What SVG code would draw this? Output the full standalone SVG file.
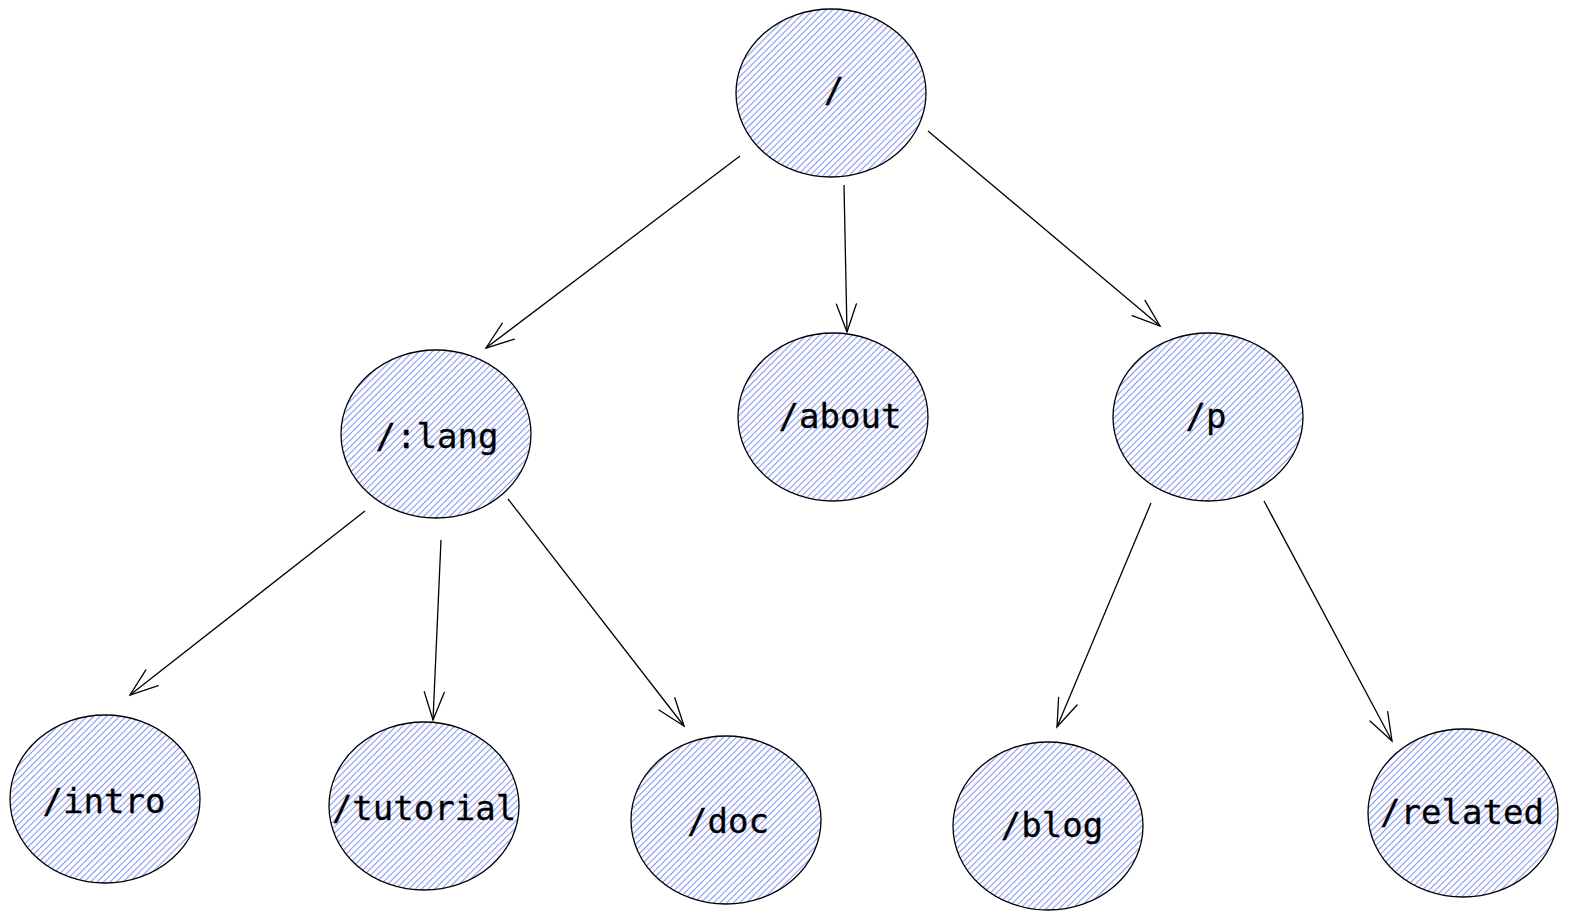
<svg xmlns="http://www.w3.org/2000/svg" width="1570" height="921" viewBox="0 0 1570 921">
<defs>
<pattern id="hatch" patternUnits="userSpaceOnUse" width="4.6" height="4.6" patternTransform="rotate(45)">
<line x1="2.3" y1="0" x2="2.3" y2="4.6" stroke="#8496f0" stroke-width="1.1"/>
</pattern>
<marker id="arr" markerUnits="userSpaceOnUse" markerWidth="40" markerHeight="30" refX="0" refY="0" viewBox="-32 -15 36 30" orient="auto">
<path d="M -28,-10 L 0,0 L -28,10" fill="none" stroke="#000000" stroke-width="1.3" stroke-linecap="round"/>
</marker>
</defs>
<style>
.node ellipse { fill: url(#hatch); stroke: #000000; stroke-width: 1.3; }
.node text { font-family: "DejaVu Sans Mono", "Liberation Mono", monospace; font-size: 34px; fill: #000000; stroke: #000000; stroke-width: 0.3; text-anchor: middle; }
.edges line { stroke: #000000; stroke-width: 1.3; fill: none; marker-end: url(#arr); }
</style>
<rect width="1570" height="921" fill="#ffffff"/>
<g class="edges">
<line x1="740" y1="156" x2="486" y2="348"/>
<line x1="844" y1="185" x2="847" y2="332"/>
<line x1="928" y1="131" x2="1160" y2="326"/>
<line x1="365" y1="511" x2="130" y2="695"/>
<line x1="441" y1="540" x2="433" y2="720"/>
<line x1="508" y1="499" x2="684" y2="726"/>
<line x1="1151" y1="503" x2="1057" y2="727"/>
<line x1="1264" y1="501" x2="1392" y2="741"/>
</g>
<g class="node" id="root"><ellipse cx="831" cy="93" rx="95" ry="84"/><text x="834" y="102">/</text></g>
<g class="node" id="lang"><ellipse cx="436" cy="434" rx="95" ry="84"/><text x="437" y="448">/:lang</text></g>
<g class="node" id="about"><ellipse cx="833" cy="417" rx="95" ry="84"/><text x="840" y="428">/about</text></g>
<g class="node" id="p"><ellipse cx="1208" cy="417" rx="95" ry="84"/><text x="1206" y="428">/p</text></g>
<g class="node" id="intro"><ellipse cx="105" cy="799" rx="95" ry="84"/><text x="104" y="813">/intro</text></g>
<g class="node" id="tutorial"><ellipse cx="424" cy="806" rx="95" ry="84"/><text x="424" y="820">/tutorial</text></g>
<g class="node" id="doc"><ellipse cx="726" cy="820" rx="95" ry="84"/><text x="728" y="833">/doc</text></g>
<g class="node" id="blog"><ellipse cx="1048" cy="826" rx="95" ry="84"/><text x="1052" y="837">/blog</text></g>
<g class="node" id="related"><ellipse cx="1463" cy="813" rx="95" ry="84"/><text x="1462" y="824">/related</text></g>
</svg>
